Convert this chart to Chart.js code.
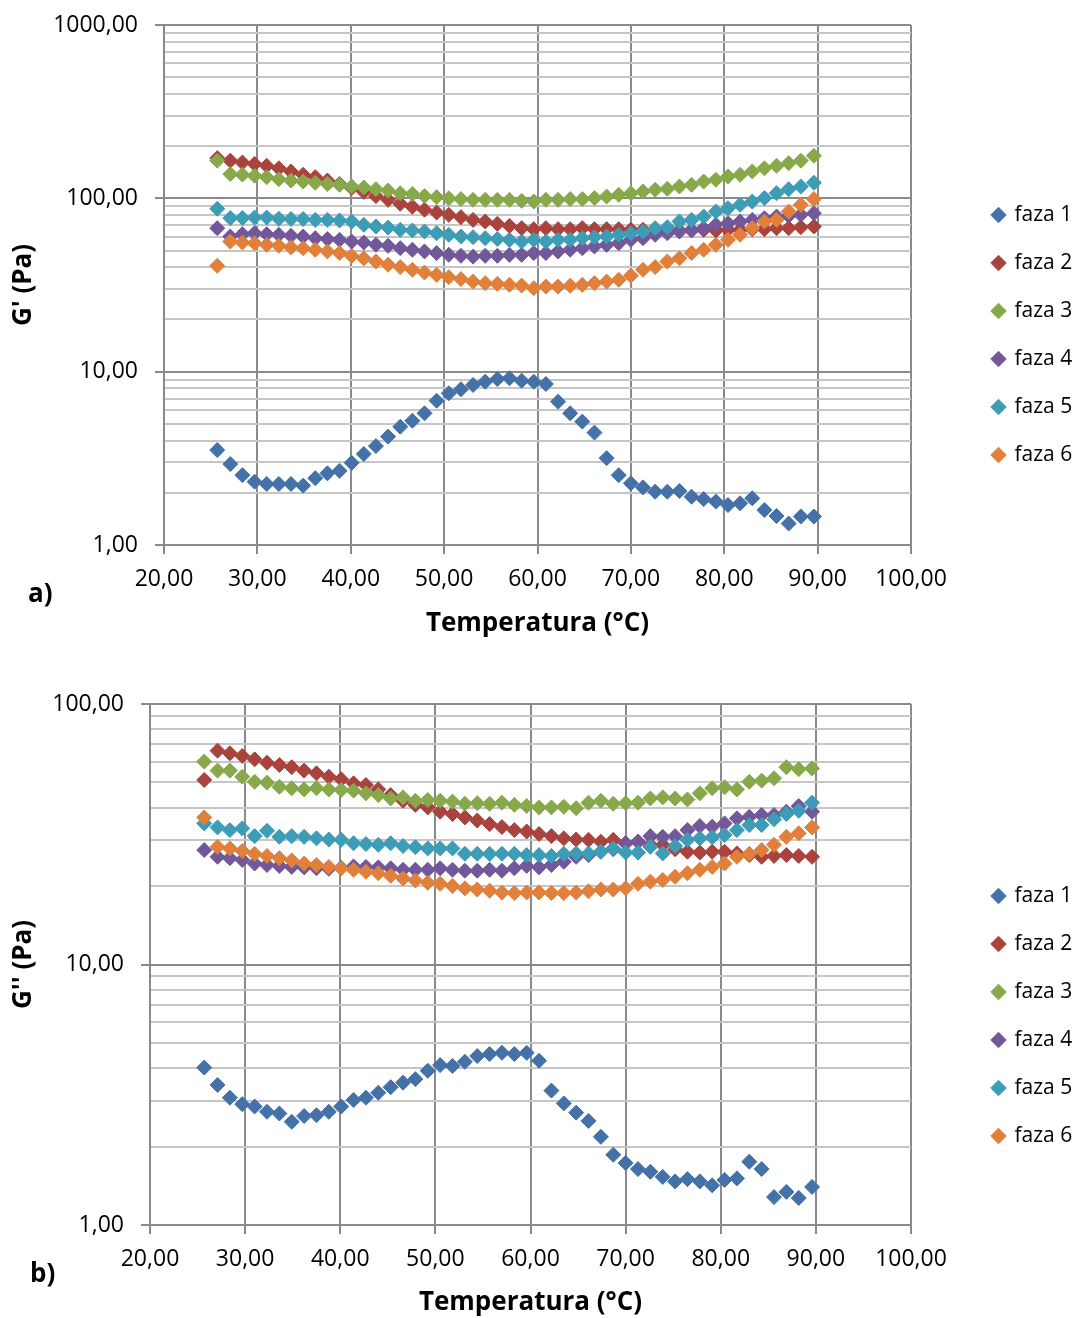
<!DOCTYPE html>
<html>
<head>
<meta charset="utf-8">
<script src="https://cdn.jsdelivr.net/npm/chart.js@4/dist/chart.umd.min.js"></script>
<style>
  html, body { margin: 0; padding: 0; background: #fff; }
  body { width: 1077px; height: 1318px; position: relative; overflow: hidden; }
  .panel { position: absolute; left: 0; width: 1077px; }
  #panelA { top: 0; height: 660px; }
  #panelB { top: 660px; height: 658px; }
  .tag { position: absolute; font: bold 26px "Open Sans", sans-serif; line-height: 26px; color: #000; }
</style>
</head>
<body>
<div class="panel" id="panelA"><canvas id="chartA" width="1077" height="660"></canvas></div>
<div class="panel" id="panelB"><canvas id="chartB" width="1077" height="658"></canvas></div>
<div class="tag" style="left:28px; top:579px;">a)</div>
<div class="tag" style="left:30px; top:1259px;">b)</div>
<script>
// temperature of each measurement (°C)
const temps = [25.7, 27.1, 28.4, 29.7, 31.0, 32.3, 33.6, 34.9, 36.2, 37.5,
  38.8, 40.1, 41.4, 42.7, 44.0, 45.3, 46.6, 47.9, 49.2, 50.5,
  51.8, 53.1, 54.4, 55.7, 57.0, 58.3, 59.6, 60.9, 62.2, 63.5,
  64.8, 66.1, 67.4, 68.7, 70.0, 71.3, 72.6, 73.9, 75.2, 76.5,
  77.8, 79.1, 80.4, 81.7, 83.0, 84.3, 85.6, 86.9, 88.2, 89.6];

const seriesNames = ['faza 1', 'faza 2', 'faza 3', 'faza 4', 'faza 5', 'faza 6'];

// G' (Pa)
const gp1 = [3.53, 2.93, 2.53, 2.32, 2.25, 2.25, 2.25, 2.20, 2.43, 2.59,
  2.68, 2.98, 3.35, 3.72, 4.22, 4.81, 5.21, 5.75, 6.80, 7.50,
  7.91, 8.38, 8.75, 9.07, 9.16, 8.87, 8.75, 8.49, 6.71, 5.75,
  5.15, 4.45, 3.17, 2.53, 2.27, 2.15, 2.03, 2.03, 2.05, 1.90,
  1.84, 1.78, 1.70, 1.74, 1.86, 1.59, 1.47, 1.33, 1.46, 1.46];
const gp2 = [170.6, 165, 161, 158, 154, 149, 143, 136.7, 132.5, 126.7,
  121, 115, 109, 103, 98, 93, 89.5, 86, 82.8, 80.3,
  77.9, 75.1, 73.5, 71.3, 69.4, 67.3, 66.4, 67.3, 66.4, 66.4,
  67.3, 66.4, 66.4, 66.4, 65.8, 65.8, 65.8, 65.8, 65.2, 65.2,
  65.8, 65.2, 65.8, 65.8, 66.4, 66.4, 67.3, 67.3, 68.2, 68.8];
const gp3 = [165, 138, 137, 135, 132.5, 129, 126.7, 125, 123, 121,
  119.6, 117, 115.5, 113, 111, 107, 106, 103, 101.6, 100,
  99, 98, 98, 98, 98, 96.7, 95.9, 98, 98, 99,
  99, 100.3, 102.4, 104.8, 107, 109.5, 112, 113.5, 117, 119.6,
  125, 128, 133.6, 136.7, 143, 149, 154, 159.6, 165, 176];
const gp4 = [67.3, 60.2, 62.1, 62.9, 62.1, 61.6, 60.8, 60.2, 58.9, 58.2,
  57.6, 56.3, 55.6, 53.9, 53.2, 51.6, 50.5, 49.4, 48.3, 47.2,
  46.6, 46.1, 46.6, 46.6, 47.2, 47.2, 48.3, 48.3, 49.4, 50.5,
  51.6, 52.8, 53.9, 55.1, 57.6, 58.9, 61.6, 62.9, 64.3, 65.8,
  67.3, 70.3, 71.9, 73.5, 75.1, 76.8, 78.5, 79.2, 80.3, 82.1];
const gp5 = [87, 76.9, 76.9, 77.5, 77.5, 76.2, 76, 76, 75.1, 75.1,
  74.5, 73.5, 70.3, 68.8, 67.8, 65.8, 65.2, 64.3, 62.9, 61.6,
  60.2, 59.7, 58.9, 58.2, 57.6, 56.3, 57.6, 56.3, 57.6, 57.6,
  58.9, 59.7, 60.2, 61.6, 62.9, 64.3, 67.3, 68.2, 73.5, 75.1,
  78.5, 83.9, 87.8, 91.7, 95.8, 100.3, 107, 113, 117, 123];
const gp6 = [40.8, 56.3, 55.6, 55.1, 53.9, 53.2, 52.2, 51.6, 50.5, 49.4,
  48.3, 46.6, 45.1, 43.2, 41.4, 40.1, 38.7, 37.3, 36.2, 35.1,
  34.2, 33.1, 32.4, 32.1, 31.7, 31.4, 30.3, 31.0, 31.0, 31.3,
  31.7, 32.4, 33.1, 33.9, 35.8, 38.7, 40.1, 43.2, 45.1, 48.3,
  50.5, 53.9, 57.6, 61.6, 67.3, 73.5, 75.1, 83.9, 91.7, 99];

// G'' (Pa)
const gpp1 = [4.02, 3.45, 3.08, 2.91, 2.85, 2.72, 2.68, 2.49, 2.62, 2.64,
  2.72, 2.85, 3.02, 3.08, 3.22, 3.38, 3.52, 3.63, 3.91, 4.11,
  4.08, 4.23, 4.45, 4.53, 4.58, 4.53, 4.58, 4.27, 3.28, 2.93,
  2.70, 2.51, 2.18, 1.86, 1.73, 1.64, 1.60, 1.53, 1.47, 1.50,
  1.47, 1.42, 1.49, 1.51, 1.75, 1.64, 1.28, 1.34, 1.27, 1.40];
const gpp2 = [51.1, 66.2, 64.7, 63.2, 61.3, 59.5, 58.3, 57.2, 55.5, 54.2,
  52.6, 51.4, 49.6, 48.9, 47.0, 44.7, 42.5, 41.0, 40.1, 38.6,
  37.8, 36.7, 35.7, 34.6, 33.7, 32.8, 32.4, 31.7, 31.1, 30.5,
  30.2, 30.1, 29.6, 30.1, 29.2, 29.6, 28.8, 28.8, 27.7, 27.1,
  26.9, 27.1, 27.1, 26.7, 26.3, 25.9, 26.1, 26.3, 26.1, 25.9];
const gpp3 = [60.1, 55.5, 55.5, 52.6, 50.3, 49.9, 48.1, 47.5, 47.0, 47.5,
  47.0, 46.8, 46.5, 45.4, 44.7, 43.4, 43.8, 42.5, 42.8, 42.5,
  42.2, 41.4, 41.6, 41.4, 41.8, 41.0, 40.6, 40.1, 40.1, 40.3,
  39.8, 41.8, 42.5, 41.4, 41.6, 41.8, 43.4, 43.8, 43.4, 43.0,
  45.4, 47.5, 47.9, 47.0, 50.3, 50.8, 51.9, 57.2, 56.2, 56.6];
const gpp4 = [27.5, 25.9, 25.6, 25.2, 24.4, 24.1, 23.9, 23.7, 23.6, 23.4,
  23.3, 23.5, 23.8, 23.7, 23.6, 23.4, 23.1, 23.1, 23.1, 23.4,
  23.1, 22.9, 22.9, 23.1, 22.9, 23.4, 23.9, 23.6, 24.1, 24.8,
  25.9, 26.3, 27.1, 27.7, 29.2, 29.6, 31.1, 30.9, 31.1, 32.8,
  34.0, 33.8, 34.8, 36.4, 36.9, 37.5, 37.5, 38.6, 40.6, 38.6];
const gpp5 = [34.8, 33.6, 32.8, 33.3, 31.1, 32.6, 30.9, 31.1, 30.9, 30.5,
  30.2, 30.1, 29.2, 29.0, 28.8, 29.2, 28.5, 28.2, 27.9, 27.9,
  27.9, 26.6, 26.6, 26.6, 26.6, 26.6, 26.3, 26.3, 26.1, 26.6,
  26.7, 26.7, 27.1, 27.9, 26.9, 26.9, 28.3, 26.7, 28.5, 30.1,
  30.5, 30.8, 31.4, 32.8, 34.3, 34.3, 36.1, 37.8, 38.9, 41.8];
const gpp6 = [36.7, 28.3, 27.9, 27.3, 26.6, 26.1, 25.6, 25.1, 24.4, 24.1,
  23.7, 23.4, 23.1, 22.7, 22.4, 21.9, 21.4, 21.0, 20.6, 20.4,
  20.0, 19.6, 19.4, 19.2, 18.9, 18.8, 18.9, 18.9, 18.8, 18.8,
  18.9, 19.1, 19.4, 19.4, 19.6, 20.4, 20.8, 21.1, 21.7, 22.4,
  23.1, 23.7, 24.4, 25.9, 26.6, 27.5, 28.8, 30.9, 31.9, 33.6];

// axis ticks
const xTicks = [20, 30, 40, 50, 60, 70, 80, 90, 100];
const decadesA = [1, 10, 100, 1000];
const decadesB = [1, 10, 100];

const colors = ['#4371a8', '#aa423d', '#87a94a', '#72589b', '#3d9cb6', '#e0803a'];
const FONT = "'Open Sans', sans-serif";
const gridDark = '#8a8a8a';
const gridLight = '#c6c6c6';

Chart.defaults.font.family = FONT;
Chart.defaults.color = '#000';

const fmt = v => v.toFixed(2).replace('.', ',');

// every grid line of a log axis: 1..9 of each decade plus the top one
function logGrid(decades) {
  const out = [];
  for (let i = 0; i < decades.length - 1; i++) {
    for (let m = 1; m <= 9; m++) out.push(decades[i] * m);
  }
  out.push(decades[decades.length - 1]);
  return out;
}

// scale label overhang is not wanted, the padding below already leaves room
function noOverhang(s) {
  s.paddingTop = 0;
  s.paddingBottom = 0;
}

function buildChart(id, series, decades, yTitle, lay) {
  const grid = logGrid(decades);
  const isDecade = v => decades.includes(v);
  const datasets = series.map((vals, i) => ({
    label: seriesNames[i],
    data: temps.map((t, j) => ({ x: t, y: vals[j] })),
    backgroundColor: colors[i],
    borderColor: colors[i],
    borderWidth: 1,
    pointStyle: 'rectRot',
    pointRadius: 7.5,
    pointHoverRadius: 7.5,
    order: series.length - i   // later phases sit on top
  }));

  return new Chart(document.getElementById(id), {
    type: 'scatter',
    data: { datasets },
    options: {
      responsive: false,
      animation: false,
      devicePixelRatio: 1,
      layout: { padding: { top: lay.top, bottom: lay.bottom, left: 0, right: 0 } },
      plugins: {
        tooltip: { enabled: false },
        legend: {
          position: 'right',
          align: 'center',
          maxWidth: 111,
          labels: {
            usePointStyle: true,
            boxWidth: 11,
            boxHeight: 11,
            padding: 27,
            font: { size: 21 },
            color: '#000',
            sort: (a, b) => a.datasetIndex - b.datasetIndex
          }
        }
      },
      scales: {
        x: {
          type: 'linear',
          min: xTicks[0],
          max: xTicks[xTicks.length - 1],
          afterBuildTicks: s => { s.ticks = xTicks.map(v => ({ value: v })); },
          ticks: { font: { size: 23 }, color: '#000', padding: 12, callback: v => fmt(v) },
          grid: { color: gridDark, lineWidth: 2, tickLength: 9, tickColor: gridDark, tickWidth: 2 },
          border: { color: gridDark, width: 2 },
          title: {
            display: true, text: 'Temperatura (°C)', color: '#000',
            font: { size: 26, weight: 'bold' }, padding: { top: 0, bottom: lay.xTitlePad }
          },
          afterFit: s => { s.height = lay.xAxisH; }
        },
        y: {
          type: 'logarithmic',
          min: decades[0],
          max: decades[decades.length - 1],
          afterBuildTicks: s => { s.ticks = grid.map(v => ({ value: v, major: isDecade(v) })); },
          ticks: {
            autoSkip: false, font: { size: 23 }, color: '#000', padding: 17,
            callback: v => isDecade(v) ? fmt(v) : ''
          },
          grid: {
            lineWidth: 2,
            tickLength: 9,
            tickWidth: 2,
            color: c => (c.tick && isDecade(c.tick.value)) ? gridDark : gridLight,
            tickColor: c => (c.tick && isDecade(c.tick.value)) ? gridDark : 'rgba(0,0,0,0)'
          },
          border: { color: gridDark, width: 2 },
          title: {
            display: true, text: yTitle, color: '#000',
            font: { size: 26, weight: 'bold' }, padding: { top: 8, bottom: 0 }
          },
          afterFit: s => { s.width = lay.yAxisW; noOverhang(s); }
        },
        // empty band between the plot and the legend
        gap: {
          axis: 'y',
          type: 'linear',
          position: 'right',
          display: true,
          ticks: { display: false },
          grid: { display: false, drawTicks: false },
          border: { display: false },
          afterFit: s => { s.width = lay.gap; noOverhang(s); }
        }
      }
    }
  });
}

buildChart('chartA', [gp1, gp2, gp3, gp4, gp5, gp6], decadesA, "G' (Pa)",
  { top: 25, bottom: 15, xAxisH: 100, yAxisW: 164, gap: 55, xTitlePad: 6 });
buildChart('chartB', [gpp1, gpp2, gpp3, gpp4, gpp5, gpp6], decadesB, "G'' (Pa)",
  { top: 44, bottom: -10, xAxisH: 103, yAxisW: 150, gap: 55, xTitlePad: 10 });
</script>
</body>
</html>
